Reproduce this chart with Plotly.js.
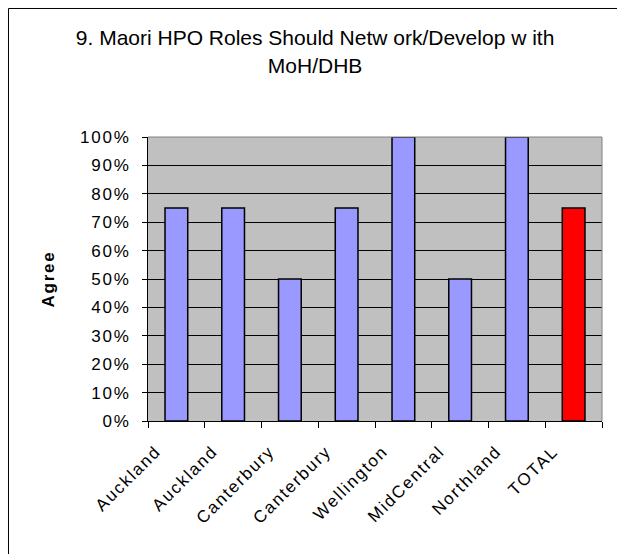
<!DOCTYPE html>
<html>
<head>
<meta charset="utf-8">
<script src="https://cdn.plot.ly/plotly-3.0.1.min.js"></script>
<style>
  html, body { margin: 0; padding: 0; background: #fff; }
  /* wide lettering for axis labels */
  #chart .xtick text, #chart .x2tick text, #chart .ytick text { letter-spacing: 1.8px; }
  #chart .annotation-text { letter-spacing: 1.8px; }
</style>
</head>
<body>
<div id="chart" style="width:617px;height:554px"></div>
<script>
// Share of respondents who agree, by region
const regions     = ['Auckland', 'Auckland', 'Canterbury', 'Canterbury', 'Wellington', 'MidCentral', 'Northland', 'TOTAL'];
const agreePct    = [75, 75, 50, 75, 100, 50, 100, 75];
const yTicks      = [0, 10, 20, 30, 40, 50, 60, 70, 80, 90, 100];
const yTickLabels = ['0%', '10%', '20%', '30%', '40%', '50%', '60%', '70%', '80%', '90%', '100%'];

const chartTitle = '9. Maori HPO Roles Should Netw ork/Develop w ith<br>MoH/DHB';
const yLabel = 'Agree';

const FONT = 'Liberation Sans, Arial, sans-serif';
const idx = regions.map((_, i) => i);
const boundaries = regions.map((_, i) => i - 0.5).concat([regions.length - 0.5]);
const barColors = regions.map(r => r === 'TOTAL' ? '#FF0000' : '#9999FF');
const labelShift = 0.36;   // rotated labels sit a little left of each bar

const traces = [
  {
    type: 'bar',
    x: idx,
    y: agreePct,
    marker: { color: barColors, line: { color: '#000000', width: 1.5 } },
    hoverinfo: 'skip',
    showlegend: false
  },
  { type: 'scatter', x: [], y: [], xaxis: 'x2', yaxis: 'y', showlegend: false, hoverinfo: 'skip' }
];

const layout = {
  width: 617,
  height: 554,
  margin: { l: 148, r: 15, t: 137, b: 133, pad: 0 },
  paper_bgcolor: '#FFFFFF',
  plot_bgcolor: '#C0C0C0',
  font: { family: FONT, color: '#000000', size: 17 },
  bargap: 0.6,
  showlegend: false,
  title: {
    text: chartTitle,
    font: { family: FONT, size: 21, color: '#000000' },
    xref: 'paper', x: 0.368, xanchor: 'center',
    yref: 'container', y: 0.918, yanchor: 'top'
  },
  xaxis: {
    range: [-0.5, regions.length - 0.5],
    tickvals: boundaries,
    showticklabels: false,
    ticks: 'outside', ticklen: 6, tickwidth: 1, tickcolor: '#000000',
    showgrid: false, zeroline: false,
    showline: true, linecolor: '#000000', linewidth: 1,
    fixedrange: true
  },
  xaxis2: {
    overlaying: 'x', anchor: 'y', side: 'bottom',
    range: [-0.5 + labelShift, regions.length - 0.5 + labelShift],
    tickmode: 'array', tickvals: idx, ticktext: regions,
    tickangle: -45,
    tickfont: { family: FONT, size: 17, color: '#000000' },
    ticks: '', showgrid: false, zeroline: false, showline: false,
    ticklabelstandoff: 16,
    fixedrange: true
  },
  yaxis: {
    range: [0, 100],
    tickmode: 'array', tickvals: yTicks, ticktext: yTickLabels,
    tickfont: { family: FONT, size: 17, color: '#000000' },
    ticks: 'outside', ticklen: 5, tickwidth: 1, tickcolor: '#000000',
    ticklabelstandoff: 8,
    showgrid: true, gridcolor: '#000000', gridwidth: 1,
    zeroline: false,
    showline: true, linecolor: '#000000', linewidth: 1,
    fixedrange: true
  },
  annotations: [
    {
      text: '<b>' + yLabel + '</b>',
      xref: 'paper', yref: 'paper',
      x: -0.22, y: 0.5, xanchor: 'center', yanchor: 'middle',
      textangle: -90, showarrow: false,
      font: { family: FONT, size: 17, color: '#000000' }
    }
  ],
  shapes: [
    // plot-area frame on top and right
    { type: 'line', xref: 'paper', yref: 'paper', x0: 0, x1: 1, y0: 1, y1: 1,
      line: { color: '#808080', width: 1 }, layer: 'above' },
    { type: 'line', xref: 'paper', yref: 'paper', x0: 1, x1: 1, y0: 0, y1: 1,
      line: { color: '#808080', width: 1 }, layer: 'above' },
    // chart-area border
    { type: 'rect', xref: 'paper', yref: 'paper',
      x0: -0.3073, x1: 1.2, y0: -1.0, y1: 1.4525,
      line: { color: '#000000', width: 1 }, fillcolor: 'rgba(0,0,0,0)', layer: 'above' }
  ]
};

Plotly.newPlot('chart', traces, layout, { displayModeBar: false, staticPlot: true });
</script>
</body>
</html>
